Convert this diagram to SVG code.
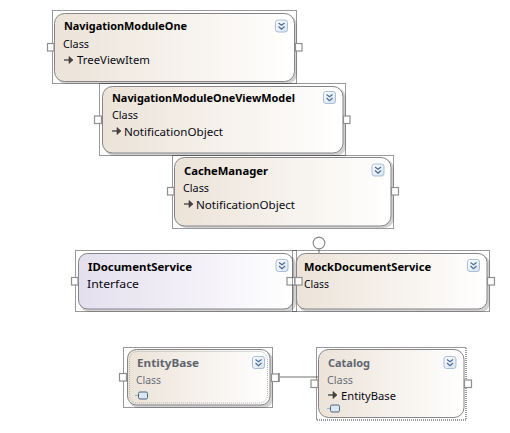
<svg xmlns="http://www.w3.org/2000/svg" xmlns:xlink="http://www.w3.org/1999/xlink" width="510" height="433" viewBox="0 0 510 433">
<style>
text{font-family:"Noto Sans","DejaVu Sans",sans-serif;font-size:11px;fill:#0a0a14}
.t{font-weight:700;fill:#000}
.sel{fill:none;stroke:#333;stroke-width:1;stroke-dasharray:1 1}
.sh{fill:#d2d2d2}
.body{stroke:#85858a;stroke-width:1}
.cls{fill:url(#cg)}
.ifc{fill:url(#ig)}
.port{fill:#fff;stroke:#8f8f8f;stroke-width:1.2}
.faded{fill:#6a6e78}
.ft{fill:#5f6570}
.inner{fill:none;stroke:#b5b5b5;stroke-width:1;stroke-dasharray:1 1}
</style>
<defs>
<linearGradient id="cg" x1="0" y1="0" x2="1" y2="0"><stop offset="0" stop-color="#ece3d8"/><stop offset="1" stop-color="#fff"/></linearGradient>
<linearGradient id="ig" x1="0" y1="0" x2="1" y2="0"><stop offset="0" stop-color="#e4dfee"/><stop offset="1" stop-color="#fff"/></linearGradient>
<linearGradient id="bg" x1="0" y1="0" x2="1" y2="1"><stop offset="0" stop-color="#fff"/><stop offset="1" stop-color="#d6e2f0"/></linearGradient>
<g id="btn">
<rect x="0.500" y="0.500" width="12" height="12" rx="2.500" fill="url(#bg)" stroke="#a9bdd6"/>
<path d="M3.500 3.500l3 2.200 3-2.200M3.500 7l3 2.600 3-2.600" fill="none" stroke="#4a6a94" stroke-width="1.200"/>
</g>
<g id="inh">
<path d="M0 0h6" stroke="#333" fill="none" stroke-width="1.200"/>
<path d="M5 -3.500l4 3.500-4 3.500z" fill="#444" stroke="#333" stroke-width="0.600"/>
</g>
<g id="cyl">
<path d="M0 0.500h4" stroke="#9fb4c8" stroke-width="1.200"/>
<rect x="3.500" y="-3" width="9" height="7" rx="1.500" fill="#dbe7f2" stroke="#50657e"/>
</g>
</defs>

<g id="connectors">
<path d="M319 249V253" fill="none" stroke="#8a8a8a" stroke-width="1.200"/>
<circle cx="319" cy="243" r="5.800" fill="#fff" stroke="#8a8a8a" stroke-width="1.200"/>
<path d="M279 377H318" fill="none" stroke="#a0a0a0" stroke-width="1.600"/>
<path d="M279 373V382" fill="none" stroke="#a0a0a0" stroke-width="2"/>
</g>

<g id="NavigationModuleOne">
<rect class="sh" x="56" y="15" width="241" height="69" rx="10"/>
<rect class="sel" x="52.500" y="10.500" width="244" height="73"/>
<rect class="body cls" x="54.500" y="13.500" width="240" height="68" rx="10"/>
<rect class="port" x="47.500" y="43.500" width="6.500" height="7.500"/>
<rect class="port" x="295.500" y="43.500" width="6.500" height="7.500"/>
<use xlink:href="#btn" x="275" y="19.500"/>
<text class="t" x="64" y="30" textLength="123" lengthAdjust="spacingAndGlyphs">NavigationModuleOne</text>
<text x="63" y="48" textLength="26" lengthAdjust="spacingAndGlyphs">Class</text>
<use xlink:href="#inh" x="64" y="60"/>
<text x="77" y="64" textLength="73" lengthAdjust="spacingAndGlyphs">TreeViewItem</text>
</g>

<g id="NavigationModuleOneViewModel">
<rect class="sh" x="104" y="88" width="242" height="68" rx="10"/>
<rect class="sel" x="99.500" y="83.500" width="246" height="72"/>
<rect class="body cls" x="102.500" y="86.500" width="240.500" height="66.500" rx="10"/>
<rect class="port" x="94.500" y="116" width="7" height="7.500"/>
<rect class="port" x="343.500" y="116" width="6.500" height="7.500"/>
<use xlink:href="#btn" x="323" y="91"/>
<text class="t" x="112" y="102" textLength="183" lengthAdjust="spacingAndGlyphs">NavigationModuleOneViewModel</text>
<text x="112" y="119" textLength="26" lengthAdjust="spacingAndGlyphs">Class</text>
<use xlink:href="#inh" x="112" y="131"/>
<text x="124" y="136" textLength="99" lengthAdjust="spacingAndGlyphs">NotificationObject</text>
</g>

<g id="CacheManager">
<rect class="sh" x="176" y="159" width="218" height="69" rx="10"/>
<rect class="sel" x="172.500" y="155.500" width="221" height="73"/>
<rect class="body cls" x="174.500" y="157.500" width="216.500" height="68.500" rx="10"/>
<rect class="port" x="167.500" y="187.500" width="6.500" height="7.500"/>
<rect class="port" x="391.500" y="187.500" width="7" height="7.500"/>
<use xlink:href="#btn" x="371.500" y="163.500"/>
<text class="t" x="184" y="175" textLength="84" lengthAdjust="spacingAndGlyphs">CacheManager</text>
<text x="183" y="192" textLength="26" lengthAdjust="spacingAndGlyphs">Class</text>
<use xlink:href="#inh" x="184" y="204"/>
<text x="196" y="209" textLength="99" lengthAdjust="spacingAndGlyphs">NotificationObject</text>
</g>

<g id="IDocumentService">
<rect class="sh" x="80" y="255" width="216" height="57" rx="9"/>
<rect class="sel" x="75.500" y="250.500" width="221" height="61"/>
<rect class="body ifc" x="78.500" y="253.500" width="214.500" height="55.500" rx="9"/>
<rect class="port" x="71.500" y="277.500" width="6.500" height="7.500"/>
<rect class="port" x="287" y="277.500" width="8" height="7.500"/>
<use xlink:href="#btn" x="275.500" y="259"/>
<text class="t" x="88" y="271" textLength="104" lengthAdjust="spacingAndGlyphs">IDocumentService</text>
<text x="87" y="288" textLength="52" lengthAdjust="spacingAndGlyphs">Interface</text>
</g>

<g id="MockDocumentService">
<rect class="sh" x="298" y="255" width="192" height="57" rx="9"/>
<rect class="sel" x="292.500" y="250.500" width="197" height="61"/>
<rect class="body cls" x="296.500" y="253.500" width="190.500" height="55.500" rx="9"/>
<rect class="port" x="295" y="277.500" width="7" height="7.500"/>
<rect class="port" x="487.500" y="277.500" width="7" height="7.500"/>
<use xlink:href="#btn" x="467" y="259"/>
<text class="t" x="304" y="271" textLength="127" lengthAdjust="spacingAndGlyphs">MockDocumentService</text>
<text x="304" y="288" textLength="25" lengthAdjust="spacingAndGlyphs">Class</text>
</g>

<g id="EntityBase">
<rect class="sh" x="129" y="351" width="144" height="57" rx="9"/>
<rect class="sel" x="123.500" y="347.500" width="149" height="60"/>
<rect class="body cls" x="127.500" y="349.500" width="142.500" height="55.500" rx="9"/>
<rect class="inner" x="129.500" y="351.500" width="138" height="51.500" rx="8"/>
<rect class="port" x="119.500" y="373.500" width="7" height="7.500"/>
<rect class="port" x="271.500" y="374" width="7" height="7.500"/>
<use xlink:href="#btn" x="252" y="356"/>
<text class="t ft" x="137" y="367" textLength="62" lengthAdjust="spacingAndGlyphs">EntityBase</text>
<text class="faded" x="136" y="384" textLength="25" lengthAdjust="spacingAndGlyphs">Class</text>
<use xlink:href="#cyl" x="135" y="395"/>
</g>

<g id="Catalog">
<rect class="sel" x="316.500" y="347.500" width="149.500" height="72.500"/>
<rect class="body cls" x="318.500" y="349.500" width="145.500" height="68" rx="10"/>
<rect class="port" x="311" y="380" width="7" height="7.500"/>
<rect class="port" x="464.500" y="380" width="7" height="7.500"/>
<use xlink:href="#btn" x="443.500" y="356"/>
<text class="t ft" x="328" y="367" textLength="42" lengthAdjust="spacingAndGlyphs">Catalog</text>
<text class="faded" x="327" y="384" textLength="26" lengthAdjust="spacingAndGlyphs">Class</text>
<use xlink:href="#inh" x="328" y="395"/>
<text x="341" y="400" textLength="55" lengthAdjust="spacingAndGlyphs">EntityBase</text>
<use xlink:href="#cyl" x="327" y="408"/>
</g>
</svg>
